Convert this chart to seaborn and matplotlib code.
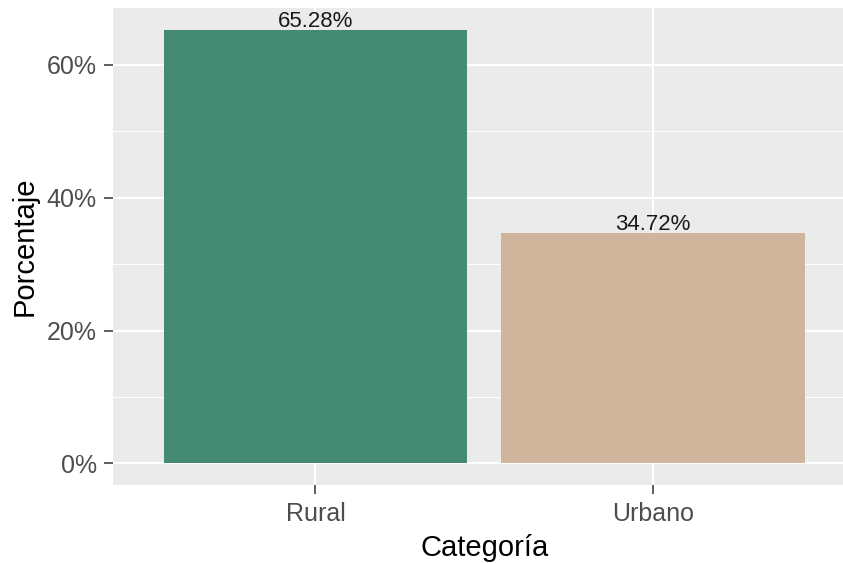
import pandas as pd
import matplotlib.pyplot as plt
import seaborn as sns
from matplotlib.ticker import FuncFormatter

categorias = ['Rural', 'Urbano']
porcentajes = [65.28, 34.72]
colores = ['#458A73', '#CEB59C']

df = pd.DataFrame({'Categoria': categorias, 'Porcentaje': porcentajes})

sns.set_theme(style='darkgrid', rc={'axes.facecolor': '#EBEBEB', 'grid.color': 'white'})
plt.rcParams['font.family'] = ['Liberation Sans', 'DejaVu Sans']

fig = plt.figure(figsize=(8.43, 5.63), dpi=100)
ax = fig.add_axes([0.134, 0.1385, 0.866, 0.847])

sns.barplot(data=df, x='Categoria', y='Porcentaje', hue='Categoria', palette=colores,
            width=0.9, saturation=1, legend=False, linewidth=0, ax=ax)

# etiquetas sobre las barras
for i, v in enumerate(porcentajes):
    ax.text(i, v - 0.3, f'{v:.2f}%', ha='center', va='bottom', fontsize=16, color='#1A1A1A')

ax.set_xlim(-0.6, 1.563)
ax.set_ylim(-65.28 * 0.05, 65.28 * 1.05)
ax.set_yticks([0, 20, 40, 60])
ax.set_yticks([10, 30, 50], minor=True)
ax.yaxis.set_major_formatter(FuncFormatter(lambda y, _: f'{y:.0f}%'))
ax.grid(True, which='major', color='white', linewidth=1.5)
ax.grid(True, which='minor', axis='y', color='white', linewidth=0.7)
ax.tick_params(which='major', length=6.5, color='#333333', labelsize=18, labelcolor='#4D4D4D',
               bottom=True, left=True, width=1.1, pad=6)
ax.tick_params(axis='y', which='major', pad=5)
ax.tick_params(which='minor', length=0)
for s in ax.spines.values():
    s.set_visible(False)

ax.set_xlabel('Categoría', fontsize=21, color='black')
ax.set_ylabel('Porcentaje', fontsize=21, color='black', labelpad=6)
# el panel original seguía a la derecha del recorte
ax.xaxis.set_label_coords(0.509, -0.102)

fig.savefig('out.png', dpi=100, facecolor='white')
